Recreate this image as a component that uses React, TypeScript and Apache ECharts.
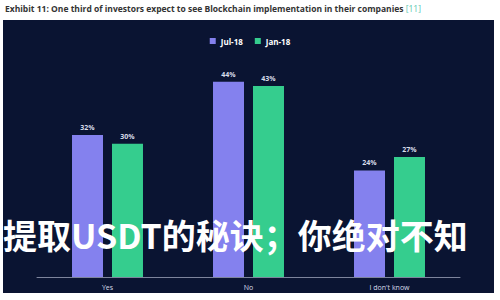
import React, { useEffect, useRef } from "react";
import * as echarts from "echarts";

const categories = ["Yes", "No", "I don't know"];
const jul18 = [32, 44, 24];
const jan18 = [30, 43, 27];
const seriesNames = ["Jul-18", "Jan-18"];
const titleText = "Exhibit 11: One third of investors expect to see Blockchain implementation in their companies ";
const titleRef = "[11]";
const overlayText = "提取USDT的秘诀；你绝对不知";

export default function App() {
  const ref = useRef<HTMLDivElement>(null);
  useEffect(() => {
    if (!ref.current) return;
    const chart = echarts.init(ref.current, null, { renderer: "svg" });
    const label = {
      show: true,
      position: "top" as const,
      distance: 4,
      formatter: "{c}%",
      color: "#d8dcea",
      fontSize: 7,
      fontWeight: "bold" as const,
      fontFamily: "Open Sans",
    };
    chart.setOption({
      animation: false,
      backgroundColor: "#ffffff",
      graphic: [
        {
          type: "rect",
          z: -10,
          shape: { x: 3, y: 20, width: 491, height: 273 },
          style: { fill: "#0a1432" },
          silent: true,
        },
        {
          type: "text",
          z: 10,
          x: 5,
          y: 8,
          style: {
            text: "{a|" + titleText + "}{b|" + titleRef + "}",
            verticalAlign: "middle",
            rich: {
              a: { fontSize: 8.5, fontWeight: "bold", fill: "#333333", fontFamily: "Open Sans" },
              b: { fontSize: 8.5, fill: "#5cc8b0", fontFamily: "Open Sans" },
            },
          },
        },
        {
          type: "text",
          z: 100,
          x: 3,
          y: 234,
          style: {
            text: overlayText,
            fontSize: 34,
            fontWeight: "bold",
            fontFamily: "Noto Sans CJK SC",
            fill: "#ffffff",
            verticalAlign: "middle",
          },
        },
      ],
      legend: {
        top: 32,
        left: "center",
        itemWidth: 6,
        itemHeight: 6,
        itemGap: 12,
        icon: "rect",
        textStyle: { color: "#ffffff", fontSize: 8, fontWeight: "bold", fontFamily: "Open Sans" },
        data: seriesNames,
      },
      grid: { left: 37, right: 40, top: 55, bottom: 23 },
      xAxis: {
        type: "category",
        data: categories,
        axisLine: { lineStyle: { color: "#7d849c", width: 1 } },
        axisTick: { show: false },
        axisLabel: { color: "#d8dcea", fontSize: 7, margin: 7, fontFamily: "Open Sans" },
      },
      yAxis: {
        type: "value",
        min: 0,
        max: 50,
        show: false,
        splitLine: { show: false },
      },
      series: [
        {
          name: seriesNames[0],
          type: "bar",
          data: jul18,
          barWidth: 31,
          barGap: "29%",
          itemStyle: { color: "#8481ee" },
          label,
        },
        {
          name: seriesNames[1],
          type: "bar",
          data: jan18,
          barWidth: 31,
          itemStyle: { color: "#35cd8e" },
          label,
        },
      ],
    });
    return () => chart.dispose();
  }, []);
  return (
    <div
      ref={ref}
      style={{ position: "absolute", left: 0, top: 0, width: 500, height: 300 }}
    />
  );
}
